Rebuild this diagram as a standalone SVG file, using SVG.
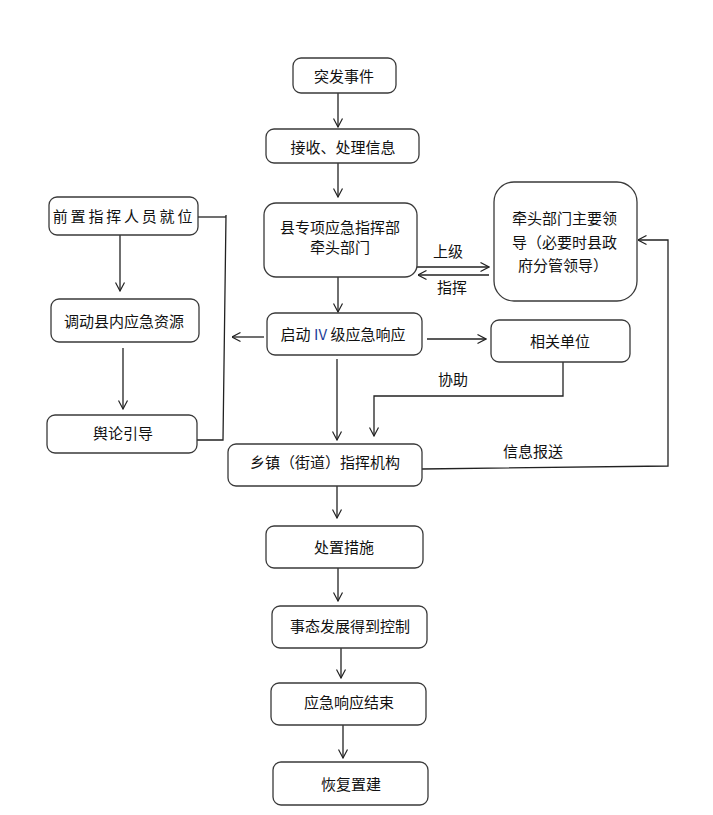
<svg xmlns="http://www.w3.org/2000/svg" width="713" height="815" viewBox="0 0 713 815">
<defs>
<style>
.box{fill:#fff;stroke:#3a3a3a;stroke-width:1.3}
.t{font-family:"Noto Sans CJK SC","Liberation Sans",sans-serif;font-size:15px;fill:#111;text-anchor:middle}
.ts{font-family:"Noto Sans CJK SC","Liberation Sans",sans-serif;font-size:15px;fill:#111}
.c{fill:none;stroke:#222;stroke-width:1.3}
.a{marker-end:url(#arr)}
</style>
<marker id="arr" viewBox="0 0 10 10" refX="9.5" refY="5" markerWidth="10" markerHeight="11" markerUnits="userSpaceOnUse" orient="auto">
<path d="M1,0.5 L9.5,5 L1,9.5" fill="none" stroke="#222" stroke-width="1.2"/>
</marker>
</defs>
<rect width="713" height="815" fill="#fff"/>
<g id="connectors">
<line class="c a" x1="338" y1="93" x2="338" y2="127"/>
<line class="c a" x1="338" y1="163" x2="338" y2="197"/>
<line class="c a" x1="417" y1="267" x2="489" y2="267"/>
<line class="c a" x1="489" y1="275" x2="418" y2="275"/>
<line class="c a" x1="338" y1="277" x2="338" y2="312"/>
<line class="c a" x1="264" y1="337" x2="232" y2="337"/>
<line class="c a" x1="427" y1="339" x2="486" y2="339"/>
<polyline class="c a" points="563,362 563,396 374,396 374,436"/>
<line class="c a" x1="337" y1="359" x2="337" y2="440"/>
<polyline class="c a" points="422,469 668,466 668,240 638,240"/>
<polyline class="c" points="198,217 226,217"/>
<polyline class="c" points="226,215 223,440 197,440"/>
<line class="c a" x1="120" y1="235" x2="120" y2="291"/>
<line class="c a" x1="123" y1="348" x2="123" y2="409"/>
<line class="c a" x1="337" y1="486" x2="337" y2="518"/>
<line class="c a" x1="338" y1="568" x2="338" y2="601"/>
<line class="c a" x1="341" y1="648" x2="341" y2="678"/>
<line class="c a" x1="343" y1="725" x2="343" y2="758"/>
<text class="t" x="448" y="257">上级</text>
<text class="t" x="452" y="293">指挥</text>
<text class="t" x="453" y="385">协助</text>
<text class="t" x="533" y="457">信息报送</text>
</g>
<g id="n1"><rect class="box" x="293" y="58" width="103" height="35" rx="8"/><text class="t" x="344" y="82">突发事件</text></g>
<g id="n2"><rect class="box" x="266" y="129" width="153" height="34" rx="8"/><text class="t" x="343" y="153">接收、处理信息</text></g>
<g id="n3"><rect class="box" x="264" y="203" width="153" height="74" rx="12"/><text class="t" x="340" y="233">县专项应急指挥部</text><text class="t" x="340" y="253">牵头部门</text></g>
<g id="n4"><rect class="box" x="494" y="182" width="143" height="119" rx="20"/><text class="ts" x="512" y="224">牵头部门主要领</text><text class="ts" x="512" y="248">导（必要时县政</text><text class="ts" x="518" y="271">府分管领导）</text></g>
<g id="n5"><rect class="box" x="267" y="313" width="155" height="42" rx="8"/><text class="t" x="343" y="340">启动 <tspan fill="#1f3f99">IV</tspan> 级应急响应</text></g>
<g id="n6"><rect class="box" x="491" y="320" width="139" height="42" rx="8"/><text class="t" x="560" y="347">相关单位</text></g>
<g id="n7"><rect class="box" x="228" y="444" width="194" height="42" rx="8"/><text class="t" x="325" y="468">乡镇（街道）指挥机构</text></g>
<g id="n8"><rect class="box" x="49" y="197" width="149" height="38" rx="8"/><text class="t" x="124" y="222" letter-spacing="2.8">前置指挥人员就位</text></g>
<g id="n9"><rect class="box" x="51" y="299" width="148" height="43" rx="8"/><text class="t" x="124" y="327">调动县内应急资源</text></g>
<g id="n10"><rect class="box" x="47" y="415" width="150" height="38" rx="8"/><text class="t" x="123" y="439">舆论引导</text></g>
<g id="n11"><rect class="box" x="266" y="526" width="157" height="42" rx="8"/><text class="t" x="344" y="553">处置措施</text></g>
<g id="n12"><rect class="box" x="272" y="606" width="155" height="42" rx="8"/><text class="t" x="350" y="632">事态发展得到控制</text></g>
<g id="n13"><rect class="box" x="271" y="683" width="155" height="42" rx="8"/><text class="t" x="349" y="708">应急响应结束</text></g>
<g id="n14"><rect class="box" x="273" y="762" width="155" height="43" rx="8"/><text class="t" x="351" y="790">恢复置建</text></g>
</svg>
